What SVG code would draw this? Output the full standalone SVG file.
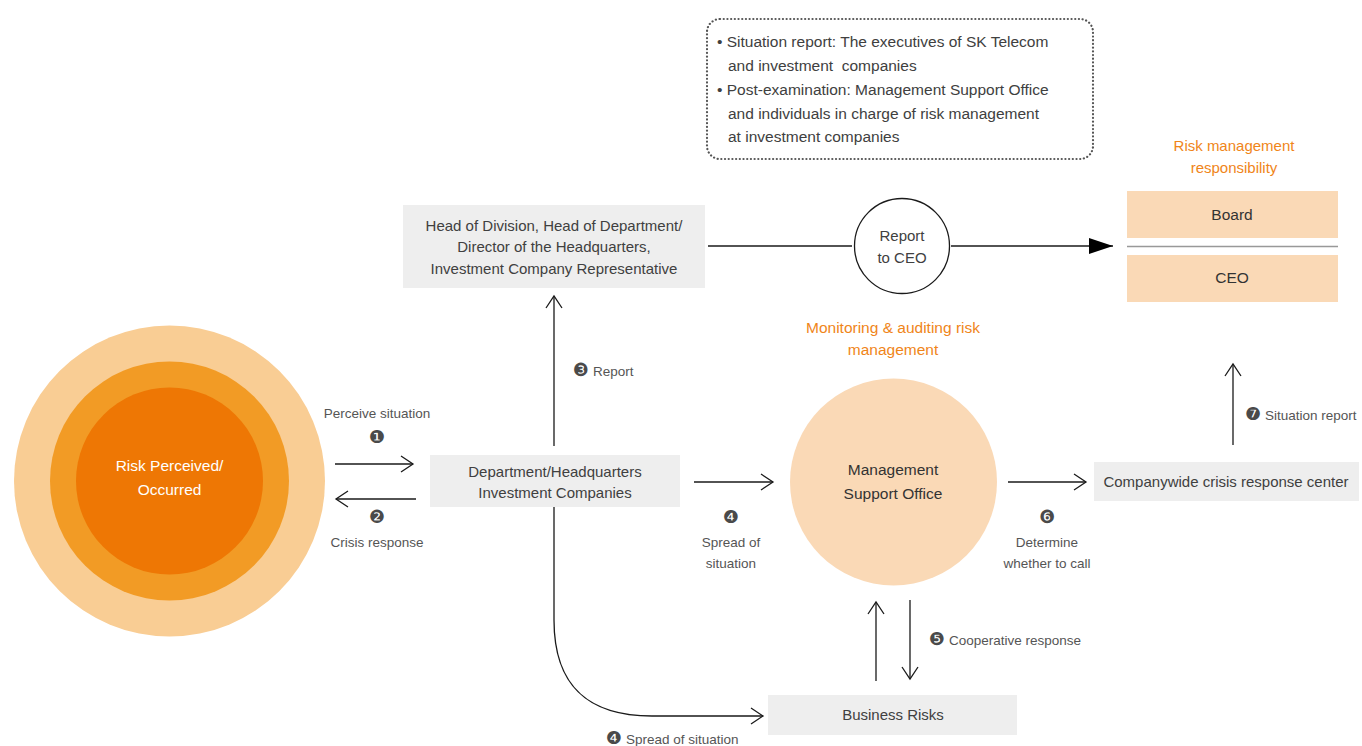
<svg xmlns="http://www.w3.org/2000/svg" width="1362" height="746" viewBox="0 0 1362 746">
<style>
text{font-family:"Liberation Sans",Arial,sans-serif;}
.box{fill:#eeeeee;}
.peach{fill:#fad9b6;}
.bt{font-size:15px;fill:#404040;text-anchor:middle;}
.dk{font-size:15.5px;fill:#333;text-anchor:middle;}
.lb{font-size:13.5px;fill:#555;}
.lbc{font-size:13.5px;fill:#555;text-anchor:middle;}
.num{font-family:"DejaVu Sans",sans-serif;font-size:18px;fill:#4a4a4a;}
.or{font-size:15px;fill:#f08519;text-anchor:middle;}
.note{font-size:15.5px;fill:#404040;white-space:pre;}
.ln{fill:none;stroke:#1a1a1a;stroke-width:1.3;}
.arr{marker-end:url(#open);}
</style>
<defs>
<marker id="open" markerUnits="userSpaceOnUse" markerWidth="16" markerHeight="20" viewBox="-13 -9 16 18" refX="0" refY="0" orient="auto">
<path d="M-12,-8 L0,0 L-12,8" fill="none" stroke="#1a1a1a" stroke-width="1.3"/>
</marker>
<marker id="solid" markerUnits="userSpaceOnUse" markerWidth="26" markerHeight="20" viewBox="-25 -10 26 20" refX="0" refY="0" orient="auto">
<path d="M-24,-8 L0,0 L-24,8 Z" fill="#000"/>
</marker>
</defs>

<g id="risk-circle">
<circle cx="169.5" cy="481" r="155.5" fill="#f9cd94"/>
<circle cx="169.5" cy="481" r="119.5" fill="#f29b25"/>
<circle cx="169.5" cy="481" r="93.5" fill="#ee7704"/>
<text x="169.5" y="471" text-anchor="middle" style="font-size:15.5px;fill:#fff">Risk Perceived/</text>
<text x="169.5" y="495" text-anchor="middle" style="font-size:15.5px;fill:#fff">Occurred</text>
</g>

<g id="note">
<rect x="707" y="19" width="386" height="140" rx="13" fill="none" stroke="#555" stroke-width="2.2" stroke-dasharray="0.1 3.6" stroke-linecap="round"/>
<text x="717" y="47" class="note">• Situation report: The executives of SK Telecom</text>
<text x="728" y="71" class="note">and investment  companies</text>
<text x="717" y="95" class="note">• Post-examination: Management Support Office</text>
<text x="728" y="119" class="note">and individuals in charge of risk management</text>
<text x="728" y="142" class="note">at investment companies</text>
</g>

<g id="head">
<rect x="403" y="205" width="302" height="83" class="box"/>
<text x="554" y="231" class="bt">Head of Division, Head of Department/</text>
<text x="554" y="252" class="bt">Director of the Headquarters,</text>
<text x="554" y="274" class="bt">Investment Company Representative</text>
</g>

<g id="report-ceo">
<circle cx="902" cy="246" r="47.5" fill="#fff" stroke="#1a1a1a" stroke-width="1.3"/>
<text x="902" y="241" class="bt">Report</text>
<text x="902" y="263" class="bt">to CEO</text>
</g>

<g id="responsibility">
<text x="1234" y="151" class="or">Risk management</text>
<text x="1234" y="173" class="or">responsibility</text>
</g>

<g id="board">
<rect x="1127" y="191" width="211" height="47" class="peach"/>
<text x="1232" y="220" class="dk">Board</text>
</g>
<g id="ceo">
<rect x="1127" y="255" width="211" height="47" class="peach"/>
<text x="1232" y="283" class="dk">CEO</text>
</g>
<line x1="1127" y1="246.5" x2="1338" y2="246.5" stroke="#999" stroke-width="1.3"/>

<g id="department">
<rect x="430" y="455" width="250" height="52" class="box"/>
<text x="555" y="477" class="bt">Department/Headquarters</text>
<text x="555" y="498" class="bt">Investment Companies</text>
</g>

<g id="mso">
<text x="893" y="333" class="or" style="font-size:15.5px">Monitoring &amp; auditing risk</text>
<text x="893" y="355" class="or" style="font-size:15.5px">management</text>
<circle cx="893.5" cy="482" r="103.5" class="peach"/>
<text x="893" y="475" class="dk">Management</text>
<text x="893" y="499" class="dk">Support Office</text>
</g>

<g id="crisis-center">
<rect x="1094" y="462" width="265" height="39" class="box"/>
<text x="1226" y="487" class="bt">Companywide crisis response center</text>
</g>

<g id="business-risks">
<rect x="768" y="695" width="249" height="40" class="box"/>
<text x="893" y="720" class="bt">Business Risks</text>
</g>

<g id="connectors">
<line x1="335" y1="464" x2="413" y2="464" class="ln arr"/>
<line x1="416" y1="499" x2="336" y2="499" class="ln arr"/>
<line x1="554" y1="446" x2="554" y2="296" class="ln arr"/>
<path d="M554 507 V620 C554 690 592 716 652 716 H763" class="ln arr"/>
<line x1="708" y1="246" x2="852" y2="246" class="ln"/>
<line x1="951" y1="246" x2="1113" y2="246" class="ln" style="marker-end:url(#solid)"/>
<line x1="694" y1="482" x2="773" y2="482" class="ln arr"/>
<line x1="1008" y1="482" x2="1086" y2="482" class="ln arr"/>
<line x1="1233" y1="445" x2="1233" y2="364" class="ln arr"/>
<line x1="876" y1="681" x2="876" y2="602" class="ln arr"/>
<line x1="910" y1="600" x2="910" y2="679" class="ln arr"/>
</g>

<g id="labels">
<text x="377" y="418" class="lbc">Perceive situation</text>
<text x="377" y="443" class="num" text-anchor="middle">❶</text>
<text x="377" y="523" class="num" text-anchor="middle">❷</text>
<text x="377" y="547" class="lbc">Crisis response</text>
<text x="573" y="376" class="lb"><tspan class="num">❸</tspan> Report</text>
<text x="731" y="523" class="num" text-anchor="middle">❹</text>
<text x="731" y="547" class="lbc">Spread of</text>
<text x="731" y="568" class="lbc">situation</text>
<text x="1047" y="523" class="num" text-anchor="middle">❻</text>
<text x="1047" y="547" class="lbc">Determine</text>
<text x="1047" y="568" class="lbc">whether to call</text>
<text x="929" y="645" class="lb"><tspan class="num">❺</tspan> Cooperative response</text>
<text x="1245" y="420" class="lb"><tspan class="num">❼</tspan> Situation report</text>
<text x="606" y="744" class="lb"><tspan class="num">❹</tspan> Spread of situation</text>
</g>
</svg>
